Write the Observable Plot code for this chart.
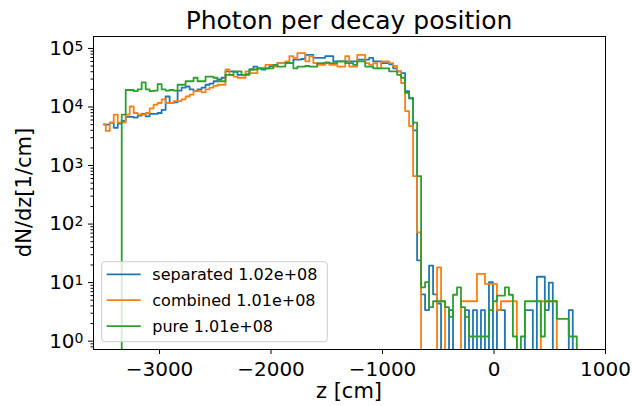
<!DOCTYPE html>
<html><head><meta charset="utf-8">
<script src="https://cdn.jsdelivr.net/npm/d3@7"></script>
<script src="https://cdn.jsdelivr.net/npm/@observablehq/plot@0.6"></script>
<style>body{margin:0;background:#fff} svg{display:block}</style>
</head><body><div id="chart"></div>
<script>
// bin grid (bin centres, cm)
const binStart = -3500;
const binWidth = 35.8;

const seriesNames = ["separated 1.02e+08", "combined 1.01e+08", "pure 1.01e+08"];
const seriesColors = ["#1f77b4", "#ff7f0e", "#2ca02c"];

// dN/dz per bin
const separated = [
 5000,5000,5400,4400,5200,5800,6800,6800,6600,7100,
 7600,6900,7600,7600,7900,8900,15100,11700,12000,19100,
 21400,22400,20000,18600,20000,21400,24000,25100,27500,29500,
 31600,40700,40700,39800,35500,35500,36300,43700,49000,45700,
 43700,45700,50100,52500,56200,56200,57500,56200,64600,64600,
 66100,77600,77600,69200,69200,69200,74100,74100,60300,60300,
 60300,60300,60300,60300,64600,64600,64600,69200,60300,60300,
 56200,56200,53700,45700,40700,38000,18600,14100,3980,24,
 6.3,3.4,19.5,6.3,4.4,0,0,3.4,0,0,
 0,3.4,0,3.4,0,3.4,0,10.2,0,3.4,
 3.4,0,0,0,0,0,3.4,3.4,0,12.6,
 12.6,3.4,10,0,0,0,0,3.4,0,0];

const combined = [
 5100,3900,5400,7400,5400,5400,7400,10200,7900,7400,
 7400,7900,9500,11000,11700,13500,11700,11700,12600,12600,
 13500,15100,16200,18600,18600,17800,20000,21400,22900,24000,
 24000,43700,35500,33100,31600,31600,40700,38000,38000,45700,
 45700,52500,52500,49000,56200,56200,60300,74100,69200,83200,
 83200,60300,74100,56200,52500,52500,56200,52500,52500,49000,
 49000,74100,49000,49000,77600,77600,56200,52500,56200,45700,
 60300,60300,56200,50100,40700,25700,8500,4700,660,72,
 0,0,0,0,18.2,4.8,0,0,0,0,
 4.8,4.8,4.8,4.8,14.1,14.1,9.5,9.5,9.5,3.4,
 4.8,4.8,4.8,4.8,0,0,0,0,0,0,
 4.8,4.8,4.8,4.8,0,0,0,0,0,0];

const pure = [
 0,0,0,0,0,7400,19500,19500,18600,20000,
 26300,20000,18600,19100,24500,20000,19100,19500,19100,24000,
 24000,27500,27500,31600,27500,27500,33100,33100,31600,27500,
 27500,35500,35500,40700,40700,35500,35500,43700,43700,45700,
 45700,45700,45700,52500,49000,49000,56200,56200,45700,49000,
 49000,50100,49000,49000,56200,56200,57500,56200,56200,60300,
 60300,56200,56200,52500,60300,60300,49000,49000,45700,45700,
 45700,45700,40700,40700,35500,31600,17400,14100,5400,660,
 8.3,10.2,3.8,4.8,4.8,4.8,3.8,2.6,6.2,8.3,
 3.8,2.6,1.2,1.2,1.2,1.2,1.2,3.4,4.8,6.0,
 6.0,8.3,6.2,1.2,0,1.2,4.8,4.8,4.8,4.8,
 1.2,4.8,4.8,4.8,2.4,2.4,2.4,1.2,1.2,0];

const xTicks = [-3000, -2000, -1000, 0, 1000];
const yTicks = [1, 10, 100, 1000, 10000, 100000];
const yTickExponents = ["0", "1", "2", "3", "4", "5"];

const title = "Photon per decay position";
const xLabel = "z [cm]";
const yLabel = "dN/dz[1/cm]";

// ---------------------------------------------------------------
const allSeries = [separated, combined, pure];
const rows = allSeries.map(vals => vals.map((v, i) => ({z: binStart + binWidth * i, v})));
const floorValue = 1e-3; // empty bins drop to the bottom of the frame (clipped)

const minorTicks = [];
for (let e = -1; e <= 5; e++) for (let m = 2; m <= 9; m++) {
  const t = m * Math.pow(10, e);
  if (t >= 0.72 && t <= 1.6e5) minorTicks.push(t);
}

const W = 632, H = 406, ML = 93, MR = 27, MT = 36, MB = 57;
const font = "DejaVu Sans";

const chart = Plot.plot({
  width: W, height: H,
  marginLeft: ML, marginRight: MR, marginTop: MT, marginBottom: MB,
  style: {fontFamily: font, fontSize: "20px", color: "#000", background: "#fff", overflow: "visible"},
  x: {domain: [-3592, 1000]},
  y: {type: "log", domain: [0.72, 1.6e5]},
  marks: [
    ...rows.map((r, k) => Plot.line(r, {
      x: "z", y: d => (d.v > 0 ? d.v : floorValue),
      stroke: seriesColors[k], strokeWidth: 1.8, curve: "step", clip: true
    })),
    Plot.frame({stroke: "#000", strokeWidth: 1}),
    Plot.axisX({ticks: xTicks, tickSize: 5, tickPadding: 7, label: null, fontSize: 20,
      tickFormat: d => (d < 0 ? "\u2212" + Math.abs(d) : String(d))}),
    Plot.axisY({ticks: yTicks, tickSize: 5, tickPadding: 5, label: null, fontSize: 20,
      tickFormat: d => "10^" + yTickExponents[yTicks.indexOf(d)]}),
    Plot.axisY({ticks: minorTicks, tickSize: 2.5, label: null, tickFormat: () => ""})
  ]
});

document.getElementById("chart").appendChild(chart);
const svg = d3.select(chart);

// superscript exponents on the log axis labels
svg.selectAll('g[aria-label="y-axis tick label"] text').each(function() {
  const t = d3.select(this);
  const s = t.text();
  if (!s.includes("^")) return;
  const [base, exp] = s.split("^");
  t.text(base);
  t.append("tspan").attr("dy", "-0.3em").attr("font-size", "14px").text(exp);
});

const cx = (ML + (W - MR)) / 2;
svg.append("text").attr("x", cx).attr("y", 28.5).attr("text-anchor", "middle")
  .attr("font-family", font).attr("font-size", 25).attr("fill", "#000").text(title);
svg.append("text").attr("x", cx).attr("y", 398).attr("text-anchor", "middle")
  .attr("font-family", font).attr("font-size", 21).attr("fill", "#000").text(xLabel);
svg.append("text").attr("transform", `translate(31,${(MT + H - MB) / 2}) rotate(-90)`)
  .attr("text-anchor", "middle")
  .attr("font-family", font).attr("font-size", 21).attr("fill", "#000").text(yLabel);

// legend
const lg = svg.append("g");
lg.append("rect").attr("x", 101.7).attr("y", 261.7).attr("width", 225.6).attr("height", 80)
  .attr("rx", 3).attr("fill", "#fff").attr("fill-opacity", 0.8).attr("stroke", "#cccccc").attr("stroke-width", 1);
seriesNames.forEach((name, k) => {
  const yy = 274.3 + k * 25.9;
  lg.append("line").attr("x1", 106.7).attr("x2", 140.7).attr("y1", yy).attr("y2", yy)
    .attr("stroke", seriesColors[k]).attr("stroke-width", 1.8);
  lg.append("text").attr("x", 152.3).attr("y", yy + 6).attr("text-anchor", "start")
    .attr("font-family", font).attr("font-size", 16).attr("fill", "#000").text(name);
});
</script></body></html>
